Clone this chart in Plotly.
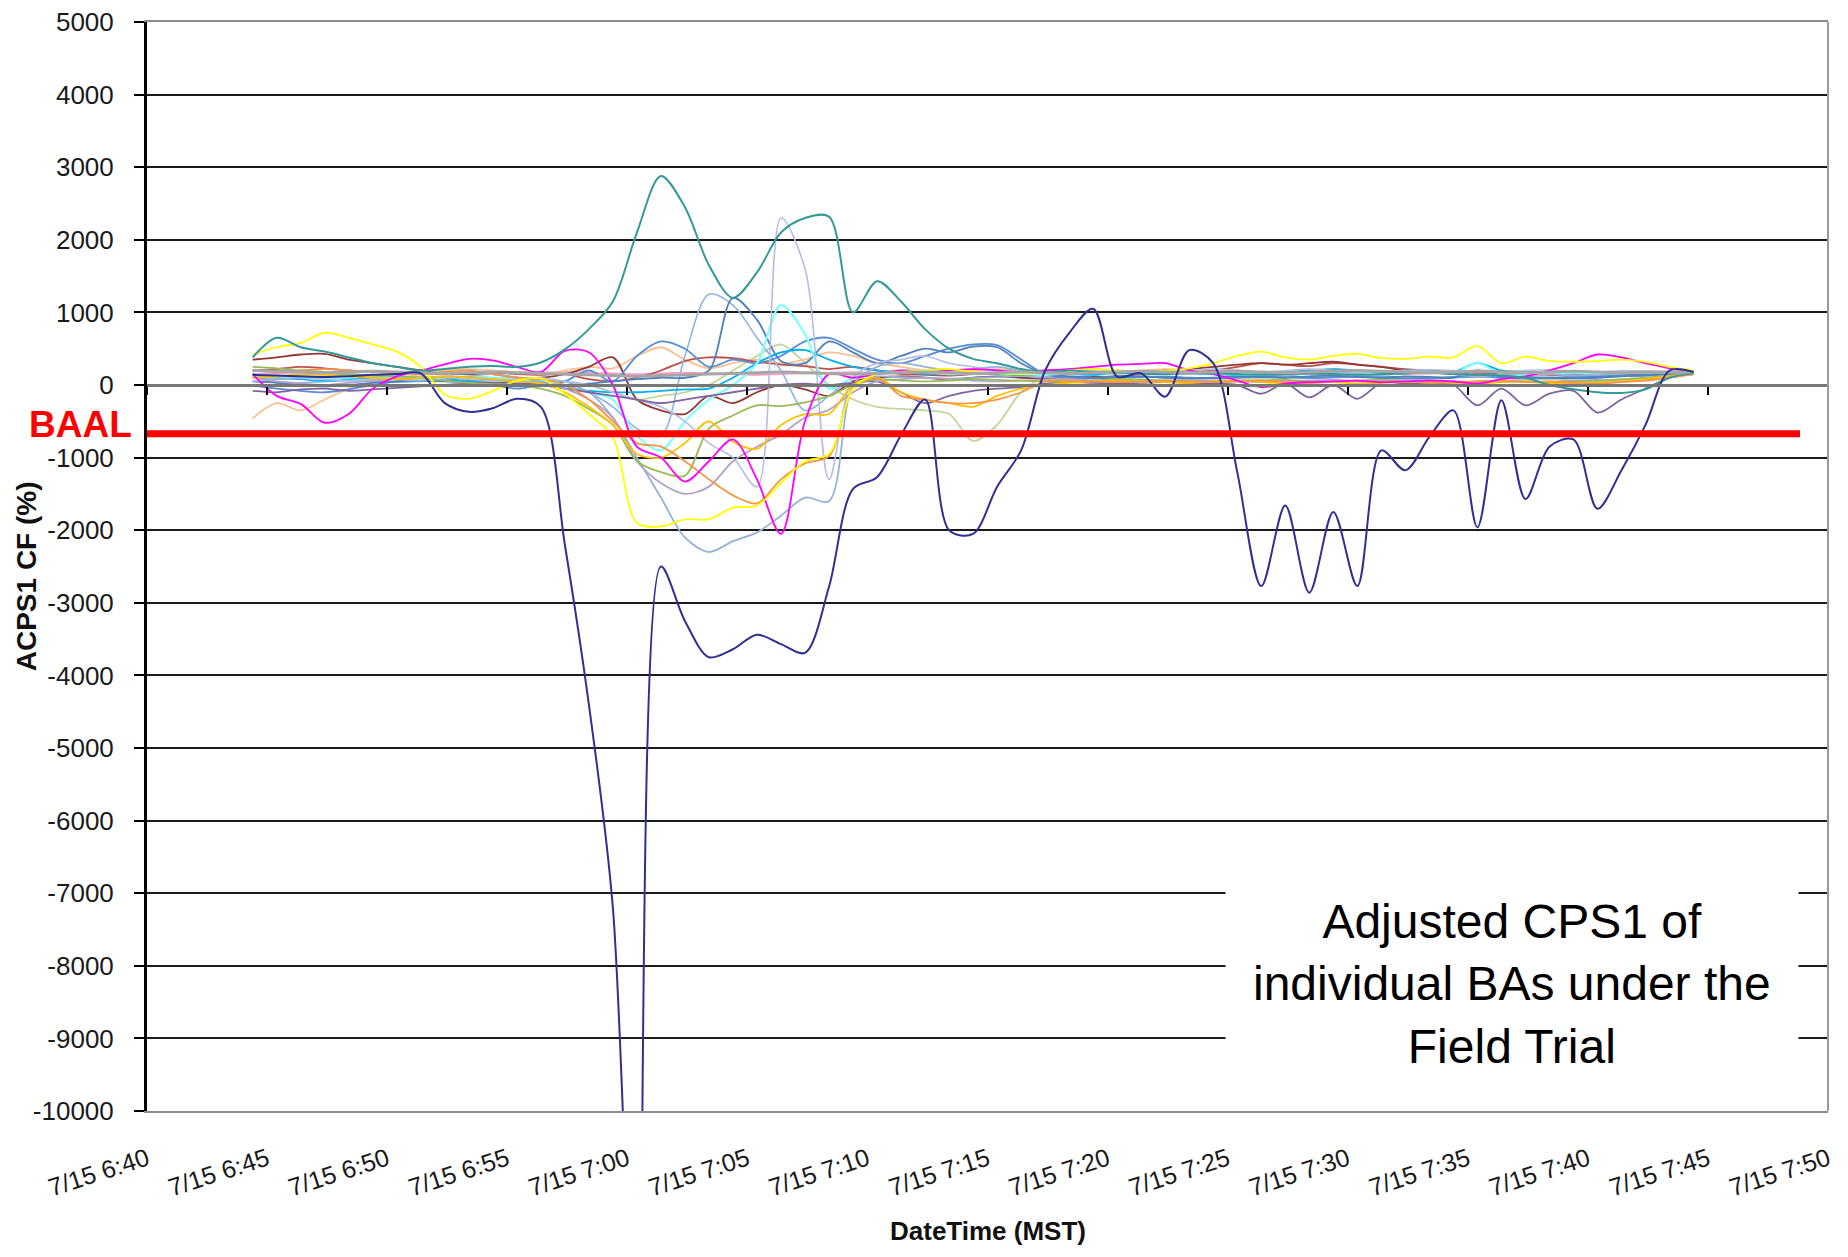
import plotly.graph_objects as go
import pandas as pd

# ---------------- data ----------------
x_start = "2009-07-15 06:40:00"
x_end = "2009-07-15 07:50:00"
times = pd.date_range("2009-07-15 06:44:24", periods=61, freq="1min")

y_tick_vals = [5000, 4000, 3000, 2000, 1000, 0, -1000, -2000, -3000, -4000,
               -5000, -6000, -7000, -8000, -9000, -10000]
y_tick_text = ["5000", "4000", "3000", "2000", "1000", "0", "-1000", "-2000",
               "-3000", "-4000", "-5000", "-6000", "-7000", "-8000", "-9000",
               "-10000"]

baal = -670
baal_x = ["2009-07-15 06:40:00", "2009-07-15 07:48:50"]

navy = [140, 130, 120, 110, 120, 140, 150, 160, -250, -370,
        -320, -190, -300, -2200, -4400, -7200, -14000, -2500, -3250, -3750,
        -3640, -3440, -3570, -3690, -2780, -1430, -1270, -690, -200, -2000,
        -2050, -1400, -900, 200, 715, 1050, 115, 160, -160, 480,
        300, -1200, -2770, -1660, -2860, -1750, -2770, -900, -1175, -715,
        -350, -1960, -210, -1570, -850, -750, -1705, -1175, -550, 200, 180]

teal = [380, 650, 520, 460, 380, 300, 250, 200, 220, 250,
        260, 250, 310, 490, 770, 1150, 2100, 2880, 2450, 1650,
        1200, 1550, 2100, 2300, 2320, 1000, 1430, 1150, 770, 500,
        360, 300, 220, 180, 200, 180, 170, 160, 150, 170,
        160, 150, 140, 150, 160, 150, 140, 150, 160, 170,
        150, 140, 130, 100, 0, -60, -100, -110, -60, 100, 160]

yellow = [420, 520, 580, 720, 650, 560, 460, 250, -130, -190,
          -80, 60, 90, -120, -400, -720, -1900, -1950, -1850, -1850,
          -1690, -1660, -1350, -1050, -950, -50, 150, 180, 200, 220,
          180, 160, 150, 170, 200, 220, 200, 180, 200, 230,
          300, 400, 460, 380, 350, 400, 430, 370, 360, 390,
          380, 540, 300, 390, 330, 320, 330, 350, 320, 250, 200]

magenta = [150, -150, -260, -520, -400, -50, 120, 200, 285, 360,
           340, 250, 180, 470, 450, 0, -850, -1000, -1330, -1050,
           -750, -1300, -2050, -500, 150, 100, 150, 200, 180, 200,
           220, 200, 180, 200, 220, 250, 280, 290, 300, 200,
           150, 60, -30, 20, 40, 50, 60, 40, 50, 60,
           50, 20, 80, 120, 200, 300, 420, 380, 300, 230, 180]

orange = [200, 180, 200, 220, 200, 180, 170, 150, 180, 200,
          150, 100, 80, 0, -200, -500, -800, -850, -1050, -1300,
          -1520, -1630, -1300, -1080, -980, -50, 100, -150, -200, -250,
          -250, -200, -100, 50, 60, 50, 40, 50, 60, 50,
          40, 50, 60, 40, 30, 50, 60, 40, 50, 30,
          40, 50, 60, 40, 50, 30, 20, 40, 60, 100, 150]

gold = [100, 120, 150, 140, 120, 100, 80, 100, 120, 100,
        80, 50, 20, -100, -300, -550, -950, -1000, -800, -500,
        -780, -880, -550, -400, -400, 0, 100, -100, -200, -250,
        -300, -150, -50, 0, 30, 50, 60, 50, 40, 30,
        50, 60, 40, 20, 30, 40, 20, 30, 40, 50,
        30, 20, 40, 50, 30, 20, 30, 50, 80, 120, 150]

olive = [250, 230, 200, 180, 150, 130, 120, 100, 60, 30,
         10, 0, -50, -150, -330, -550, -1050, -1200, -1250, -600,
         -420, -280, -290, -240, -150, 0, 80, 60, 50, 60,
         80, 70, 60, 50, 40, 60, 80, 70, 60, 50,
         40, 50, 60, 70, 50, 40, 60, 70, 50, 40,
         30, 50, 60, 40, 30, 50, 60, 80, 100, 130, 150]

lavender = [100, 50, 20, 0, 30, 60, 80, 100, 120, 100,
            80, 50, 30, -50, -200, -450, -1050, -1350, -1500, -1400,
            -1050, -850, -680, -450, -340, -100, 50, 80, 100, 80,
            60, 50, 60, 70, 80, 60, 50, 40, 60, 70,
            60, 50, 40, 50, 60, 70, 50, 40, 60, 70,
            50, 40, 60, 50, 40, 60, 70, 50, 80, 120, 150]

purple = [-80, -100, -60, -50, -80, -60, -40, -20, 0, 20,
          30, 20, 0, -50, -100, -150, -200, -250, -200, -150,
          -100, -50, 0, 20, 0, 30, 50, -100, -250, -150,
          -80, -50, -30, 20, 40, 30, 20, 30, 40, 30,
          20, 0, -120, 20, -170, 0, -190, 30, 20, 10,
          0, -280, -50, -280, -120, -80, -380, -200, -50, 100, 150]

lightsteel = [100, 80, 100, 120, 150, 100, 80, 60, 80, 120,
              150, 100, 50, -20, -100, -450, -1000, -1550, -2100, -2300,
              -2150, -2030, -1800, -1550, -1600, 0, 250, 300, 250, 200,
              220, 250, 200, 180, 200, 220, 200, 180, 160, 150,
              170, 200, 150, 130, 160, 180, 150, 140, 160, 170,
              150, 120, 140, 160, 150, 130, 140, 160, 170, 170, 170]

lavblue = [50, 80, 100, 80, 60, 80, 100, 120, 100, 80,
           60, 80, 100, 50, 0, -100, -200, -300, -500, -800,
           -1000, -1400, 2300, 1600, -1300, 100, 300, 350, 400, 300,
           250, 200, 180, 200, 220, 200, 180, 160, 180, 200,
           220, 200, 180, 200, 220, 200, 180, 190, 200, 210,
           200, 190, 180, 200, 210, 190, 180, 200, 190, 180, 170]

cyan = [100, 120, 100, 80, 100, 120, 100, 80, 100, 120,
        100, 80, 60, 0, -100, -200, -700, -900, -500, -200,
        0, 300, 1100, 700, -50, 100, 150, 200, 180, 150,
        160, 170, 150, 140, 160, 170, 150, 160, 170, 180,
        160, 150, 140, 160, 170, 180, 160, 150, 170, 180,
        160, 300, 150, 140, 160, 170, 150, 160, 170, 180, 170]

skyblue = [150, 100, 80, 60, 80, 100, 120, 100, 80, 60,
           80, 100, 60, -50, -80, -100, -100, -80, -60, -50,
           100, 300, 450, 480, 350, 250, 200, 180, 150, 160,
           170, 150, 140, 160, 150, 140, 160, 170, 180, 160,
           150, 140, 160, 180, 200, 220, 200, 180, 200, 190,
           180, 300, 200, 180, 170, 160, 150, 160, 170, 180, 170]

steelblue = [50, 30, 0, -20, 0, 30, 50, 60, 50, 40,
             30, 20, 10, 0, 20, 50, 80, 100, 100, 200,
             1200, 900, 330, 300, 600, 450, 300, 400, 500, 450,
             530, 520, 300, 150, 120, 100, 110, 120, 100, 90,
             100, 120, 110, 100, 120, 130, 110, 100, 120, 110,
             100, 200, 120, 110, 100, 90, 100, 120, 130, 150, 160]

blue2 = [0, -50, -80, -100, -60, 0, 50, 80, 60, 30,
         0, -50, 0, 50, 200, 50, 400, 600, 500, 250,
         350, 300, 400, 600, 650, 500, 350, 300, 400, 500,
         560, 550, 350, 150, 100, 90, 100, 110, 120, 100,
         90, 100, 110, 120, 100, 110, 120, 100, 90, 100,
         110, 120, 100, 90, 100, 110, 120, 130, 140, 150, 160]

lightblue = [50, 40, 30, 50, 60, 50, 40, 50, 60, 50,
             40, 50, 60, 50, -100, -300, -600, -700, 400, 1250,
             1100, 650, 200, -350, -150, 100, 120, 110, 100, 90,
             100, 110, 120, 100, 90, 100, 110, 120, 100, 90,
             100, 110, 120, 100, 90, 100, 110, 120, 100, 90,
             100, 110, 120, 100, 90, 100, 110, 120, 130, 150, 160]

brown = [350, 380, 420, 430, 350, 300, 250, 200, 150, 150,
         150, 100, 100, 150, 250, 380, -200, -350, -400, -150,
         -250, -100, 0, -60, -150, 50, 100, 120, 100, 80,
         100, 120, 100, 90, 100, 110, 120, 150, 200, 220,
         250, 280, 300, 280, 300, 320, 280, 250, 200, 180,
         150, 130, 120, 140, 150, 130, 120, 140, 150, 160, 170]

red = [200, 220, 250, 230, 200, 180, 170, 160, 150, 160,
       170, 150, 140, 150, 80, 50, 100, 200, 330, 380,
       370, 320, 280, 260, 220, 250, 200, 150, 140, 130,
       150, 160, 140, 130, 150, 160, 140, 150, 160, 170,
       200, 250, 300, 280, 260, 300, 280, 250, 220, 200,
       180, 170, 160, 150, 140, 130, 150, 160, 170, 180, 170]

peach = [-460, -250, -350, -200, -50, 50, 80, 160, 200, 220,
         200, 180, 150, 200, 250, 230, 400, 520, 350, 230,
         300, 350, 300, 350, 450, 400, 300, 250, 200, 180,
         200, 220, 200, 180, 160, 170, 180, 200, 220, 200,
         180, 170, 160, 180, 200, 220, 200, 180, 160, 170,
         180, 200, 190, 180, 170, 160, 170, 180, 190, 180, 170]

lightgreen = [100, 120, 110, 100, 90, 100, 110, 120, 100, 90,
              80, 70, 60, 50, 0, -100, -200, -150, -100, 0,
              200, 400, 560, 300, 0, -200, -300, -330, -350, -400,
              -770, -550, -100, 100, 80, 60, 70, 80, 60, 50,
              60, 70, 80, 60, 50, 40, 60, 70, 80, 60,
              50, 40, 60, 70, 80, 60, 50, 70, 90, 120, 150]

pink = [150, 160, 170, 160, 150, 140, 150, 160, 170, 180,
        170, 160, 170, 180, 170, 160, 150, 160, 170, 160,
        150, 140, 150, 160, 170, 180, 170, 160, 150, 160,
        170, 160, 150, 160, 170, 160, 150, 160, 170, 160,
        150, 160, 170, 160, 150, 160, 170, 160, 150, 160,
        170, 160, 150, 160, 170, 160, 150, 160, 170, 170, 170]

gray = [200, 190, 180, 170, 180, 190, 180, 170, 160, 170,
        180, 170, 160, 150, 140, 130, 120, 130, 140, 150,
        160, 170, 180, 170, 160, 150, 160, 170, 180, 170,
        160, 170, 180, 170, 160, 170, 180, 190, 180, 170,
        180, 190, 180, 170, 180, 190, 200, 190, 180, 170,
        180, 190, 180, 170, 180, 190, 180, 170, 180, 180, 180]

series = [
    ("pink", pink, "#FF99CC", 1.6),
    ("lightgreen", lightgreen, "#C3D69B", 1.8),
    ("peach", peach, "#FAC090", 1.8),
    ("red", red, "#C0504D", 1.8),
    ("brown", brown, "#943634", 1.8),
    ("lightblue", lightblue, "#8DB4E2", 1.6),
    ("blue2", blue2, "#558ED5", 1.8),
    ("steelblue", steelblue, "#4F81BD", 1.8),
    ("skyblue", skyblue, "#00B0F0", 1.8),
    ("cyan", cyan, "#7FFFFF", 2.2),
    ("lavblue", lavblue, "#B4BEE2", 1.6),
    ("lightsteel", lightsteel, "#95B3D7", 1.8),
    ("purple", purple, "#8064A2", 1.8),
    ("lavender", lavender, "#B3A2C7", 1.8),
    ("olive", olive, "#9BBB59", 1.8),
    ("gold", gold, "#FFC000", 1.8),
    ("orange", orange, "#F79646", 1.8),
    ("magenta", magenta, "#FF00FF", 1.8),
    ("yellow", yellow, "#FFFF00", 1.8),
    ("teal", teal, "#339999", 2.0),
    ("gray", gray, "#A6A6A6", 3.0),
    ("navy", navy, "#2E3192", 2.0),
]

# ---------------- figure ----------------
FONT = "Liberation Sans, Arial, sans-serif"
fig = go.Figure()
for name, vals, color, w in series:
    fig.add_trace(go.Scatter(
        x=times, y=vals, mode="lines", name=name,
        line=dict(color=color, width=w, shape="spline", smoothing=0.9),
        hoverinfo="skip", showlegend=False))

fig.add_trace(go.Scatter(
    x=baal_x, y=[baal, baal], mode="lines", xaxis="x2",
    line=dict(color="#FF0000", width=7), hoverinfo="skip", showlegend=False))

# the page body adds an 8px offset, so the figure is sized to fit the window
fig.update_layout(
    width=1832, height=1241,
    margin=dict(l=139, r=12, t=14, b=138, autoexpand=False),
    paper_bgcolor="white", plot_bgcolor="white",
    showlegend=False,
    font=dict(family=FONT, color="#1a1a1a"),
    xaxis=dict(
        type="date", range=[x_start, x_end], tick0=x_start, dtick=300000,
        tickformat="%-m/%d %-H:%M", tickangle=-18, automargin=False,
        tickfont=dict(size=25, family=FONT, color="#1a1a1a"),
        showgrid=False, zeroline=False, showline=True, mirror=True,
        linecolor="#8c8c8c", linewidth=2, ticks="", ticklabelstandoff=22,
    ),
    xaxis2=dict(
        type="date", range=[x_start, x_end], tick0=x_start, dtick=300000,
        overlaying="x", anchor="free", position=2 / 3, side="bottom",
        automargin=False,
        showticklabels=False, showgrid=False, zeroline=False,
        showline=True, linecolor="#777777", linewidth=3,
        ticks="outside", ticklen=8, tickwidth=2, tickcolor="black",
    ),
    yaxis=dict(
        range=[-10000, 5000], tickmode="array",
        tickvals=y_tick_vals, ticktext=y_tick_text, automargin=False,
        ticklabeloverflow="allow",
        showgrid=True, gridcolor="#1a1a1a", gridwidth=2, zeroline=False,
        showline=True, linecolor="black", linewidth=3,
        ticks="outside", ticklen=10, tickwidth=2, tickcolor="black",
        tickfont=dict(size=26, family=FONT, color="#1a1a1a"),
        ticklabelstandoff=15,
    ),
    shapes=[dict(type="line", xref="paper", yref="paper", x0=1, x1=1, y0=0, y1=1,
                 line=dict(color="#9a9a9a", width=2))],
    annotations=[
        dict(text="<b>BAAL</b>", xref="paper", yref="y", x=-0.008, y=baal,
             xanchor="right", yanchor="middle", yshift=9, showarrow=False,
             font=dict(size=37, color="#FF0000", family=FONT)),
        dict(text="<b>ACPS1 CF (%)</b>", xref="paper", yref="paper",
             x=-0.072, y=0.491, textangle=-90, showarrow=False,
             xanchor="center", yanchor="middle",
             font=dict(size=28, color="#111111", family=FONT)),
        dict(text="<b>DateTime (MST)</b>", xref="paper", yref="paper",
             x=0.5, y=-0.1105, showarrow=False,
             xanchor="center", yanchor="middle",
             font=dict(size=26, color="#111111", family=FONT)),
        dict(text="Adjusted CPS1 of<br>individual BAs under the<br>Field Trial",
             xref="paper", yref="paper", x=0.812, y=0.1163, showarrow=False,
             xanchor="center", yanchor="middle", align="center",
             bgcolor="white", borderpad=27,
             font=dict(size=48, color="black", family=FONT)),
    ],
)

fig.write_html("out.html")
